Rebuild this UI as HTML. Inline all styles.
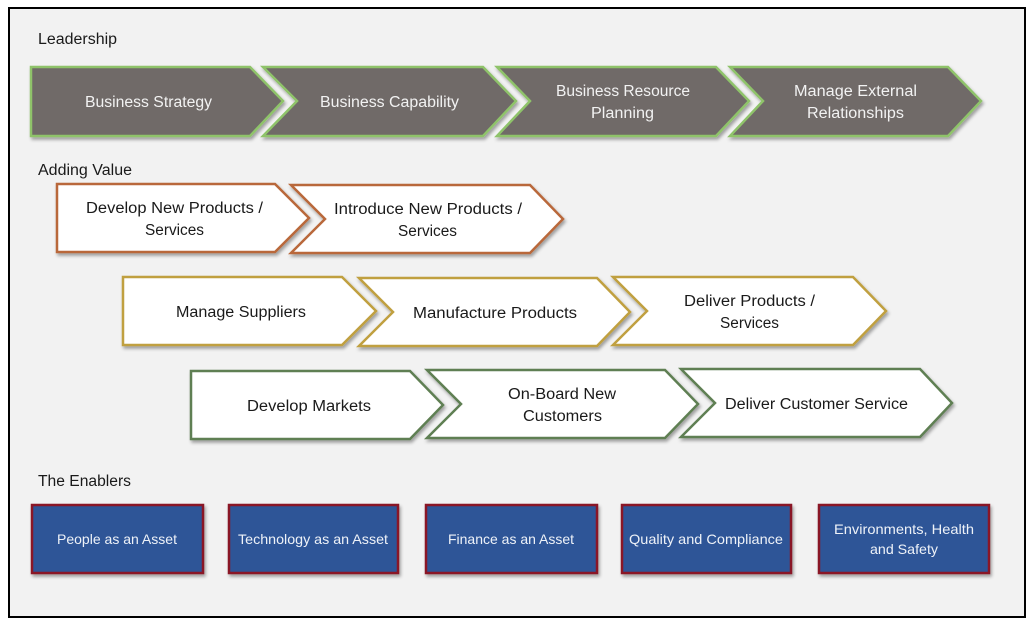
<!DOCTYPE html>
<html><head><meta charset="utf-8"><style>
html,body{margin:0;padding:0;background:#fff}
svg{display:block}
text{font-family:"Liberation Sans",sans-serif;font-size:15.5px;fill:#1a1a1a}
.w{fill:#f2f2f2}
.b{font-size:14px;fill:#eef2f8}
.g{fill:#6f6a68;stroke:#8fc36b;stroke-width:2.5;filter:url(#s)}
.o{fill:#fff;stroke:#b9683a;stroke-width:2.5;filter:url(#s)}
.y{fill:#fff;stroke:#c0a040;stroke-width:2.5;filter:url(#s)}
.d{fill:#fff;stroke:#5f7f52;stroke-width:2.5;filter:url(#s)}
.r{fill:#2f5597;stroke:#8a1526;stroke-width:2.5;filter:url(#s)}
</style></head><body>
<svg width="1032" height="627" viewBox="0 0 1032 627" xmlns="http://www.w3.org/2000/svg">
<defs><filter id="s" x="-5%" y="-10%" width="112%" height="125%"><feDropShadow dx="1.5" dy="2.5" stdDeviation="1.5" flood-color="#000" flood-opacity=".35"/></filter></defs>
<rect x="9" y="8" width="1016" height="609" fill="#f2f2f2" stroke="#000" stroke-width="2"/>

<text x="38" y="44" textLength="79" lengthAdjust="spacingAndGlyphs">Leadership</text>
<text x="38" y="175" textLength="94" lengthAdjust="spacingAndGlyphs">Adding Value</text>
<text x="38" y="486" textLength="93" lengthAdjust="spacingAndGlyphs">The Enablers</text>

<polygon class="g" points="31,67 250,67 283,101 250,136 31,136"/>
<polygon class="g" points="263,67 483,67 516,101 483,136 263,136 297,101"/>
<polygon class="g" points="497,67 716,67 749,101 716,136 497,136 530,101"/>
<polygon class="g" points="730,67 948,67 981,101 948,136 730,136 763,101"/>
<text class="w" x="85" y="107" textLength="127" lengthAdjust="spacingAndGlyphs">Business Strategy</text>
<text class="w" x="320" y="107" textLength="139" lengthAdjust="spacingAndGlyphs">Business Capability</text>
<text class="w" x="556" y="96" textLength="134" lengthAdjust="spacingAndGlyphs">Business Resource</text>
<text class="w" x="591" y="118" textLength="63" lengthAdjust="spacingAndGlyphs">Planning</text>
<text class="w" x="794" y="96" textLength="123" lengthAdjust="spacingAndGlyphs">Manage External</text>
<text class="w" x="807" y="118" textLength="97" lengthAdjust="spacingAndGlyphs">Relationships</text>

<polygon class="o" points="57,184 275,184 309,218 275,252 57,252"/>
<polygon class="o" points="291,185 530,185 563,219 530,253 291,253 325,219"/>
<text x="86" y="213" textLength="177" lengthAdjust="spacingAndGlyphs">Develop New Products /</text>
<text x="145" y="235" textLength="59" lengthAdjust="spacingAndGlyphs">Services</text>
<text x="334" y="214" textLength="188" lengthAdjust="spacingAndGlyphs">Introduce New Products /</text>
<text x="398" y="236" textLength="59" lengthAdjust="spacingAndGlyphs">Services</text>

<polygon class="y" points="123,277 342,277 376,311 342,345 123,345"/>
<polygon class="y" points="359,278 597,278 630,312 597,346 359,346 393,312"/>
<polygon class="y" points="613,277 853,277 886,311 853,345 613,345 647,311"/>
<text x="176" y="317" textLength="130" lengthAdjust="spacingAndGlyphs">Manage Suppliers</text>
<text x="413" y="318" textLength="164" lengthAdjust="spacingAndGlyphs">Manufacture Products</text>
<text x="684" y="306" textLength="131" lengthAdjust="spacingAndGlyphs">Deliver Products /</text>
<text x="720" y="328" textLength="59" lengthAdjust="spacingAndGlyphs">Services</text>

<polygon class="d" points="191,371 410,371 443,405 410,439 191,439"/>
<polygon class="d" points="427,370 665,370 698,404 665,438 427,438 461,404"/>
<polygon class="d" points="681,369 920,369 952,403 920,437 681,437 715,403"/>
<text x="247" y="411" textLength="124" lengthAdjust="spacingAndGlyphs">Develop Markets</text>
<text x="508" y="399" textLength="108" lengthAdjust="spacingAndGlyphs">On-Board New</text>
<text x="523" y="421" textLength="79" lengthAdjust="spacingAndGlyphs">Customers</text>
<text x="725" y="409" textLength="183" lengthAdjust="spacingAndGlyphs">Deliver Customer Service</text>

<rect class="r" x="32" y="505" width="171" height="68"/>
<rect class="r" x="229" y="505" width="169" height="68"/>
<rect class="r" x="426" y="505" width="171" height="68"/>
<rect class="r" x="622" y="505" width="169" height="68"/>
<rect class="r" x="819" y="505" width="170" height="68"/>
<text class="b" x="57" y="544" textLength="120" lengthAdjust="spacingAndGlyphs">People as an Asset</text>
<text class="b" x="238" y="544" textLength="150" lengthAdjust="spacingAndGlyphs">Technology as an Asset</text>
<text class="b" x="448" y="544" textLength="126" lengthAdjust="spacingAndGlyphs">Finance as an Asset</text>
<text class="b" x="629" y="544" textLength="154" lengthAdjust="spacingAndGlyphs">Quality and Compliance</text>
<text class="b" x="834" y="534" textLength="140" lengthAdjust="spacingAndGlyphs">Environments, Health</text>
<text class="b" x="870" y="554" textLength="68" lengthAdjust="spacingAndGlyphs">and Safety</text>
</svg>
</body></html>
